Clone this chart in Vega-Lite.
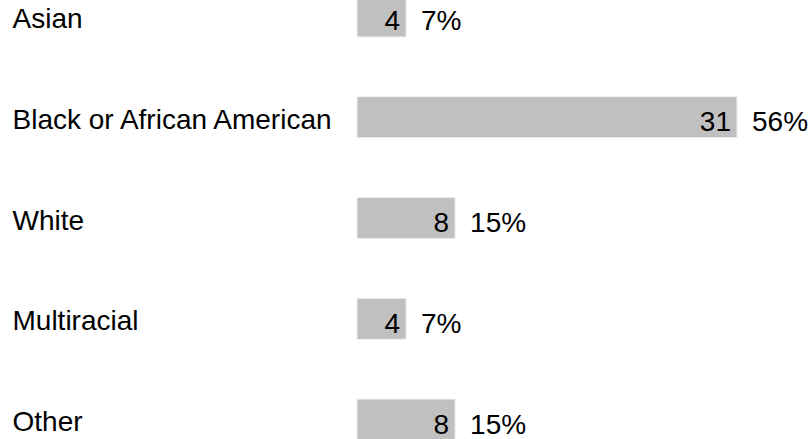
{
  "$schema": "https://vega.github.io/schema/vega-lite/v6.json",
  "width": 810,
  "height": 439,
  "autosize": {"type": "none"},
  "padding": 0,
  "background": "white",
  "config": {"view": {"stroke": null}, "font": "Liberation Sans"},
  "data": {
    "values": [
      {"race": "Asian", "count": 4, "pct": "7%"},
      {"race": "Black or African American", "count": 31, "pct": "56%"},
      {"race": "White", "count": 8, "pct": "15%"},
      {"race": "Multiracial", "count": 4, "pct": "7%"},
      {"race": "Other", "count": 8, "pct": "15%"}
    ]
  },
  "encoding": {
    "y": {
      "field": "race",
      "type": "nominal",
      "sort": null,
      "scale": {"range": [-34, 470], "paddingInner": 0.593, "paddingOuter": 0.2965},
      "axis": {
        "title": null,
        "domain": false,
        "ticks": false,
        "labelAlign": "left",
        "labelBaseline": "middle",
        "labelPadding": -12,
        "labelOffset": 3.5,
        "labelFontSize": 28,
        "labelColor": "#000000",
        "labelFont": "Liberation Sans",
        "labelLimit": 400
      }
    }
  },
  "layer": [
    {
      "mark": {"type": "bar", "color": "#c0c0c0", "stroke": "#eeeeee", "strokeWidth": 1},
      "encoding": {
        "x": {
          "field": "count",
          "type": "quantitative",
          "scale": {"domain": [0, 31], "range": [357, 737], "nice": false, "zero": true},
          "axis": null
        }
      }
    },
    {
      "mark": {"type": "text", "align": "right", "baseline": "middle", "dx": -6, "dy": 6, "fontSize": 28, "color": "#000000"},
      "encoding": {
        "x": {"field": "count", "type": "quantitative"},
        "text": {"field": "count", "type": "quantitative"}
      }
    },
    {
      "mark": {"type": "text", "align": "left", "baseline": "middle", "dx": 15, "dy": 6, "fontSize": 28, "color": "#000000"},
      "encoding": {
        "x": {"field": "count", "type": "quantitative"},
        "text": {"field": "pct", "type": "nominal"}
      }
    }
  ]
}
